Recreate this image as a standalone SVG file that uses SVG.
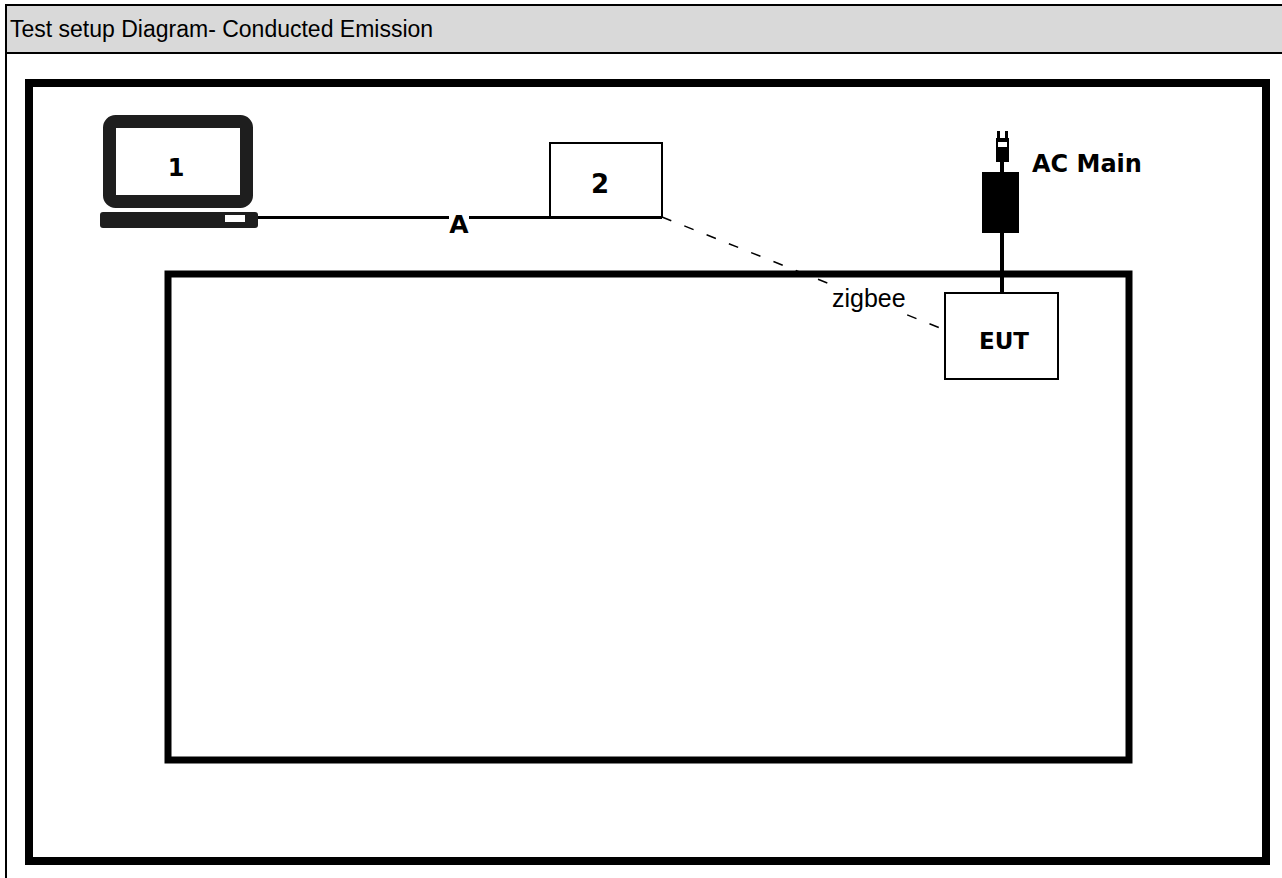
<svg xmlns="http://www.w3.org/2000/svg" width="1282" height="878" viewBox="0 0 1282 878">
<style>
.frame{fill:none;stroke:#000}
.box{fill:#fff;stroke:#000;stroke-width:2}
.lbl{font-family:"Liberation Sans",Arial,sans-serif;fill:#000}
.bold{font-family:"DejaVu Sans","Liberation Sans",sans-serif;font-weight:bold;fill:#000}
</style>
<rect width="1282" height="878" fill="#fff"/>
<g id="header">
<rect x="6" y="5" width="1280" height="48" fill="#d9d9d9"/>
<line x1="5" y1="5" x2="1282" y2="5" stroke="#000" stroke-width="2"/>
<line x1="5" y1="53" x2="1282" y2="53" stroke="#000" stroke-width="2"/>
<line x1="6" y1="4" x2="6" y2="878" stroke="#000" stroke-width="2"/>
<text class="lbl" x="10" y="37" font-size="23">Test setup Diagram- Conducted Emission</text>
</g>
<g id="outer-frame"><rect class="frame" x="29" y="83" width="1237" height="778" stroke-width="8"/></g>
<g id="table"><rect class="frame" x="168" y="274" width="961" height="486" stroke-width="7"/></g>
<g id="connectors">
<line x1="258" y1="217.5" x2="662" y2="217.5" stroke="#000" stroke-width="3"/>
<line x1="662" y1="217" x2="945" y2="330" stroke="#000" stroke-width="1.5" stroke-dasharray="10 14"/>
<line x1="1002" y1="160" x2="1002" y2="294" stroke="#000" stroke-width="4"/>
<rect x="449" y="212" width="20" height="12" fill="#fff"/>
<text class="bold" x="459" y="233" font-size="25" text-anchor="middle">A</text>
<rect x="830" y="286" width="80" height="26" fill="#fff"/>
<text class="lbl" x="832" y="307" font-size="25">zigbee</text>
</g>
<g id="node1">
<rect x="109.5" y="121.5" width="137" height="80" rx="6" fill="#fff" stroke="#1e1e1e" stroke-width="13"/>
<rect x="100" y="212" width="158" height="16" rx="3" fill="#1e1e1e"/>
<rect x="225" y="215" width="20" height="7" fill="#fff"/>
<text class="bold" x="176" y="176" font-size="24" text-anchor="middle">1</text>
</g>
<g id="node2">
<rect class="box" x="550" y="143" width="112" height="74"/>
<text class="bold" x="600" y="193" font-size="26" text-anchor="middle">2</text>
</g>
<g id="acmain">
<rect x="997" y="131" width="3" height="8" fill="#000"/>
<rect x="1005" y="131" width="3" height="8" fill="#000"/>
<rect x="996" y="138" width="13" height="24" fill="#000"/>
<rect x="998" y="142" width="9" height="5" fill="#fff"/>
<rect x="982" y="172" width="37" height="61" fill="#000"/>
<text class="bold" x="1032" y="172" font-size="24">AC Main</text>
</g>
<g id="eut">
<rect class="box" x="945" y="293" width="113" height="86"/>
<text class="bold" x="1004" y="349" font-size="23" text-anchor="middle">EUT</text>
</g>
</svg>
